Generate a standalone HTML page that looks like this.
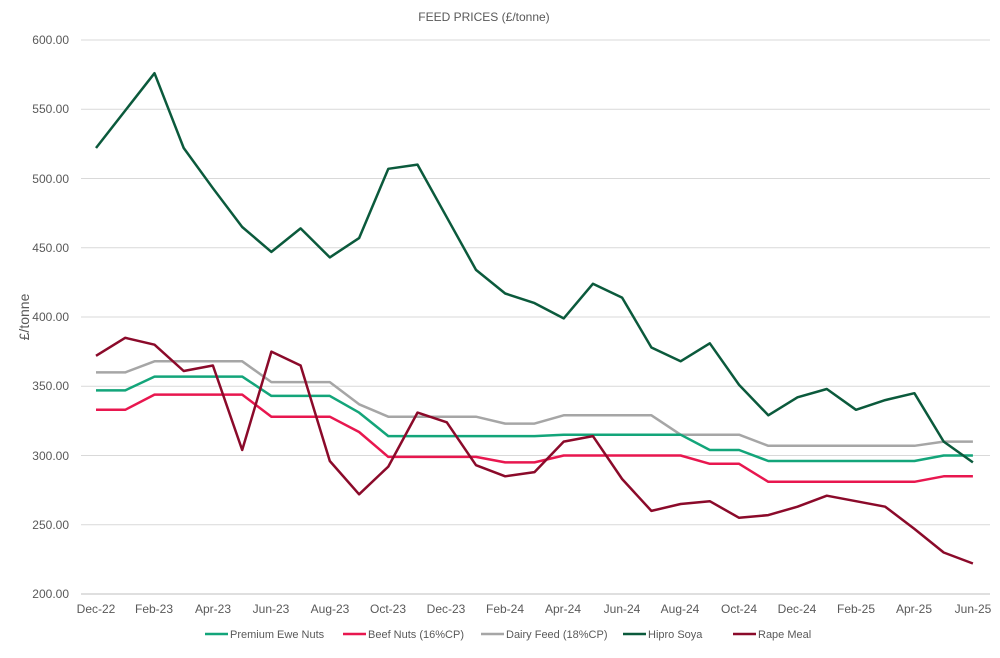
<!DOCTYPE html>
<html><head><meta charset="utf-8"><style>
body{margin:0;background:#fff;font-family:"Liberation Sans",sans-serif;}
svg text{font-family:"Liberation Sans",sans-serif;fill:#595959;}
</style></head><body>
<svg id="c" width="1000" height="653" viewBox="0 0 1000 653" xmlns="http://www.w3.org/2000/svg">
<rect width="1000" height="653" fill="#fff"/>
<text x="484" y="21" font-size="12" text-anchor="middle">FEED PRICES (£/tonne)</text>
<g stroke="#d9d9d9" stroke-width="1">
<line x1="81" x2="990" y1="40" y2="40"/><line x1="81" x2="990" y1="109.25" y2="109.25"/>
<line x1="81" x2="990" y1="178.5" y2="178.5"/><line x1="81" x2="990" y1="247.75" y2="247.75"/>
<line x1="81" x2="990" y1="317" y2="317"/><line x1="81" x2="990" y1="386.25" y2="386.25"/>
<line x1="81" x2="990" y1="455.5" y2="455.5"/><line x1="81" x2="990" y1="524.75" y2="524.75"/>
</g>
<line x1="81" x2="990" y1="594" y2="594" stroke="#bfbfbf"/>
<g font-size="12" text-anchor="end">
<text x="69" y="44">600.00</text><text x="69" y="113">550.00</text><text x="69" y="183">500.00</text>
<text x="69" y="252">450.00</text><text x="69" y="321">400.00</text><text x="69" y="390">350.00</text>
<text x="69" y="460">300.00</text><text x="69" y="529">250.00</text><text x="69" y="598">200.00</text>
</g>
<text transform="translate(29,317) rotate(-90)" font-size="14" text-anchor="middle">£/tonne</text>
<g font-size="12" text-anchor="middle">
<text x="96" y="613">Dec-22</text><text x="154" y="613">Feb-23</text><text x="213" y="613">Apr-23</text>
<text x="271" y="613">Jun-23</text><text x="330" y="613">Aug-23</text><text x="388" y="613">Oct-23</text>
<text x="446" y="613">Dec-23</text><text x="505" y="613">Feb-24</text><text x="563" y="613">Apr-24</text>
<text x="622" y="613">Jun-24</text><text x="680" y="613">Aug-24</text><text x="739" y="613">Oct-24</text>
<text x="797" y="613">Dec-24</text><text x="856" y="613">Feb-25</text><text x="914" y="613">Apr-25</text>
<text x="973" y="613">Jun-25</text>
</g>
<g id="lines" fill="none" stroke-width="2.5" stroke-linejoin="round"></g>
<g font-size="11">
<line x1="205" x2="228" y1="634" y2="634" stroke="#13a57a" stroke-width="2.5"/><text x="230" y="638">Premium Ewe Nuts</text>
<line x1="343" x2="366" y1="634" y2="634" stroke="#e8174f" stroke-width="2.5"/><text x="368" y="638">Beef Nuts (16%CP)</text>
<line x1="481" x2="504" y1="634" y2="634" stroke="#a6a6a6" stroke-width="2.5"/><text x="506" y="638">Dairy Feed (18%CP)</text>
<line x1="623" x2="646" y1="634" y2="634" stroke="#0b5a3c" stroke-width="2.5"/><text x="648" y="638">Hipro Soya</text>
<line x1="733" x2="756" y1="634" y2="634" stroke="#8b0a2a" stroke-width="2.5"/><text x="758" y="638">Rape Meal</text>
</g>
</svg>
<script>
var S=[
["#a6a6a6",[360,360,368,368,368,368,353,353,353,337,328,328,328,328,323,323,329,329,329,329,315,315,315,307,307,307,307,307,307,310,310]],
["#e8174f",[333,333,344,344,344,344,328,328,328,317,299,299,299,299,295,295,300,300,300,300,300,294,294,281,281,281,281,281,281,285,285]],
["#13a57a",[347,347,357,357,357,357,343,343,343,331,314,314,314,314,314,314,315,315,315,315,315,304,304,296,296,296,296,296,296,300,300]],
["#0b5a3c",[522,549,576,522,493,465,447,464,443,457,507,510,472,434,417,410,399,424,414,378,368,381,351,329,342,348,333,340,345,310,295]],
["#8b0a2a",[372,385,380,361,365,304,375,365,296,272,292,331,324,293,285,288,310,314,283,260,265,267,255,257,263,271,267,263,247,230,222]]];
var g=document.getElementById('lines');
S.forEach(function(s){var p=s[1].map(function(v,i){return (96+i*29.23).toFixed(1)+','+(594-(v-200)*1.385).toFixed(1)}).join(' ');
var e=document.createElementNS('http://www.w3.org/2000/svg','polyline');e.setAttribute('points',p);e.setAttribute('stroke',s[0]);g.appendChild(e);});
</script>
</body></html>
